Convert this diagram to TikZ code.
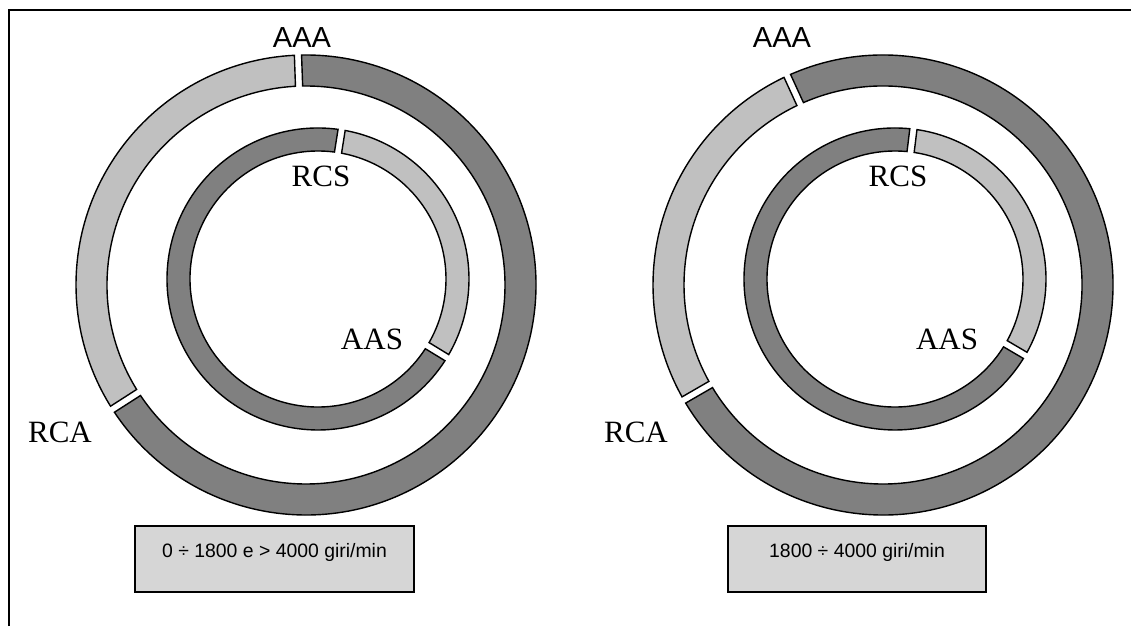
\documentclass[tikz,border=0pt]{standalone}
\usepackage{fontspec}
\setmainfont{Liberation Serif}
\newfontfamily\arialfont{Liberation Sans}
\usetikzlibrary{calc}

\definecolor{ringdark}{HTML}{808080}
\definecolor{ringlight}{HTML}{C0C0C0}
\definecolor{boxfill}{HTML}{D6D6D6}

% one block-arc segment: centre, inner radius, outer radius, start angle, end angle, fill
\newcommand{\ringpart}[6]{%
  \pgfmathsetmacro\ringgo{deg(3.6/#3)}%
  \pgfmathsetmacro\ringgi{deg(3.6/#2)}%
  \filldraw[ringline, fill=#6]
    ([shift={(#4+\ringgo:#3pt)}]#1)
    arc[start angle=#4+\ringgo, end angle=#5-\ringgo, radius=#3pt]
    -- ([shift={(#5-\ringgi:#2pt)}]#1)
    arc[start angle=#5-\ringgi, end angle=#4+\ringgi, radius=#2pt]
    -- cycle;}

\begin{document}
\begin{tikzpicture}[
  ringline/.style={draw=black, line width=1.4pt, line join=miter},
  serlabel/.style={font=\fontsize{31}{31}\selectfont, inner sep=0pt, anchor=base},
  sanlabel/.style={font=\arialfont\fontsize{29}{29}\selectfont, inner sep=0pt, anchor=base},
  speedbox/.style={draw=black, line width=1.4pt, fill=boxfill, inner sep=0pt},
  boxtext/.style={font=\arialfont\fontsize{19.4}{19.4}\selectfont, inner sep=0pt, anchor=base}
]
\useasboundingbox (0pt,0pt) rectangle (1131pt,626pt);
\fill[white] (0pt,0pt) rectangle (1131pt,626pt);

% frame (only top and left sides fall inside the page)
\draw[line width=2pt] (8.5pt,0pt) -- (8.5pt,616pt) -- (1131pt,616pt);

% centres of the rings
\coordinate (O1) at (306pt,341pt);
\coordinate (O2) at (883pt,341pt);
\coordinate (I1) at (318pt,347pt);
\coordinate (I2) at (895pt,347pt);

% left outer ring
\ringpart{O1}{199}{230}{92}{212.7}{ringlight}
\ringpart{O1}{199}{230}{212.7}{452}{ringdark}
% left inner ring
\ringpart{I1}{128}{151}{-31.4}{81}{ringlight}
\ringpart{I1}{128}{151}{81}{328.6}{ringdark}

% right outer ring
\ringpart{O2}{199}{230}{114.6}{210}{ringlight}
\ringpart{O2}{199}{230}{210}{474.6}{ringdark}
% right inner ring
\ringpart{I2}{128}{151}{-30.4}{83}{ringlight}
\ringpart{I2}{128}{151}{83}{329.6}{ringdark}

% labels
\node[sanlabel] (aaa1) at (302pt,578pt) {AAA};
\node[sanlabel] (aaa2) at (782pt,578pt) {AAA};
\node[serlabel] (rcs1) at (321pt,439pt) {RCS};
\node[serlabel] (rcs2) at (898pt,439pt) {RCS};
\node[serlabel] (aas1) at (372pt,276pt) {AAS};
\node[serlabel] (aas2) at (947pt,276pt) {AAS};
\node[serlabel] (rca1) at (60pt,183pt) {RCA};
\node[serlabel] (rca2) at (636pt,183pt) {RCA};

% speed ranges
\draw[speedbox] (135pt,34pt) rectangle (414pt,100pt);
\node[boxtext] (sp1) at (274.5pt,69pt) {0 ÷ 1800 e > 4000 giri/min};
\draw[speedbox] (728pt,34pt) rectangle (986pt,100pt);
\node[boxtext] (sp2) at (857pt,69pt) {1800 ÷ 4000 giri/min};
\end{tikzpicture}
\end{document}
